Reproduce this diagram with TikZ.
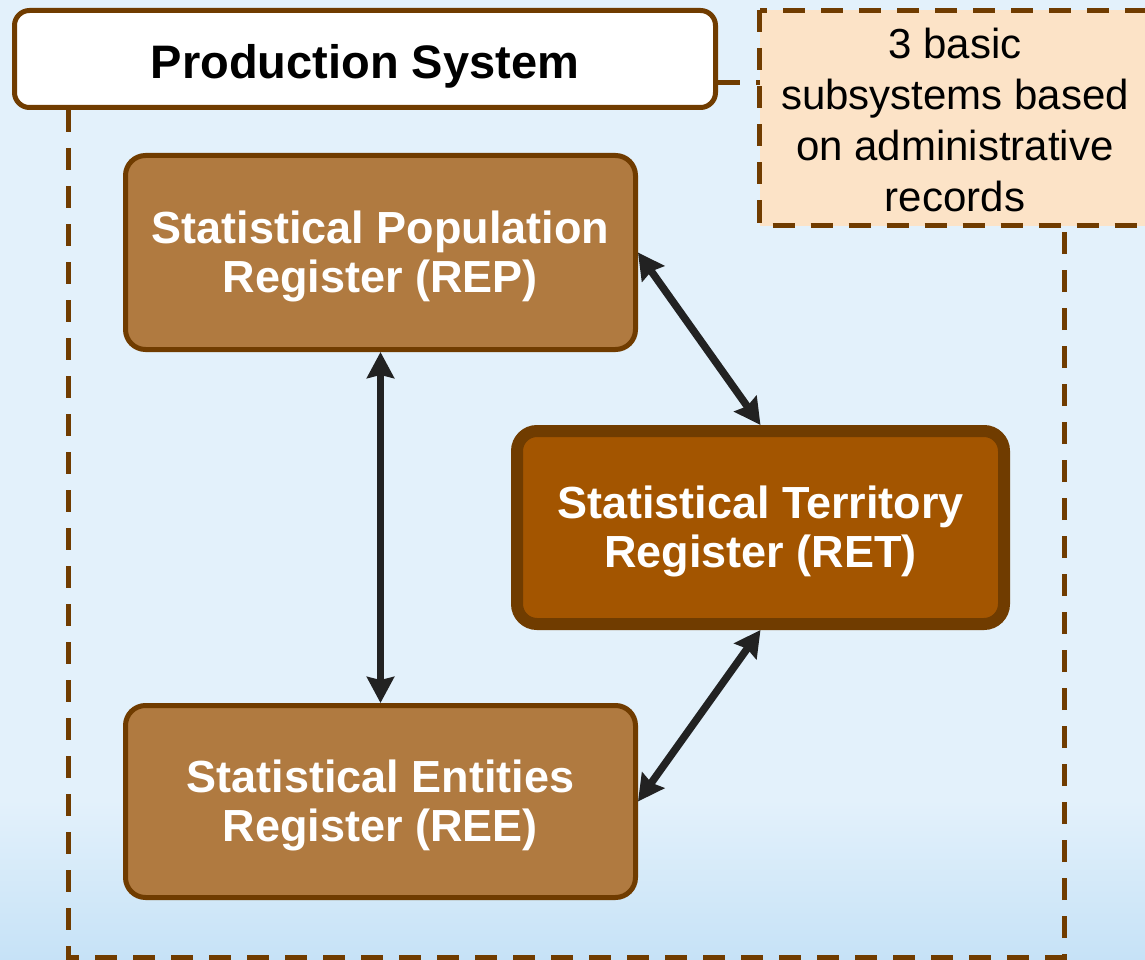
\documentclass[tikz,border=0pt]{standalone}
\usepackage{fontspec}
\setmainfont{Liberation Sans}
\usetikzlibrary{arrows.meta}
\definecolor{bgtop}{HTML}{E3F1FB}
\definecolor{bgbot}{HTML}{C6E2F7}
\definecolor{brd}{HTML}{703C00}
\definecolor{regfill}{HTML}{B07A40}
\definecolor{retfill}{HTML}{A35500}
\definecolor{notefill}{HTML}{FCE3C7}
\definecolor{arr}{HTML}{222222}
\newcommand{\toppad}{\rule{0pt}{41pt}}
\tikzset{
  regbox/.style={draw=brd, line width=5pt, fill=regfill, rounded corners=20pt,
    minimum width=510pt, minimum height=194pt, align=center, text=white,
    font=\bfseries\fontsize{45}{49}\selectfont, inner sep=0pt},
  retbox/.style={regbox, fill=retfill, line width=12pt, minimum width=487pt, minimum height=193pt},
  titlebox/.style={draw=brd, line width=5pt, fill=white, rounded corners=15pt,
    minimum width=701pt, minimum height=97pt, font=\bfseries\fontsize{47}{52}\selectfont,
    inner sep=0pt, text height=52pt, text depth=12pt},
  notetext/.style={align=center, font=\fontsize{42}{51}\selectfont, inner sep=0pt},
  dashline/.style={draw=brd, line width=5pt, dash pattern=on 22pt off 16pt},
  biarrow/.style={draw=arr, line width=7.5pt, {Stealth[length=26pt,width=27pt,inset=3pt]}-{Stealth[length=26pt,width=27pt,inset=3pt]}}
}
\begin{document}
\begin{tikzpicture}[x=1pt,y=-1pt]
\useasboundingbox (0,0) rectangle (1145,960);
\fill[bgtop] (0,0) rectangle (1145,960);
\shade[top color=bgtop, bottom color=bgbot] (0,800) rectangle (1145,960);
% container
\coordinate (cl) at (68,110);
\coordinate (cbl) at (68,957);
\coordinate (cbr) at (1064,957);
\coordinate (cr) at (1064,226);
\draw[dashline] (cl) -- (cbl) -- (cbr) -- (cr);
% note box
\draw[dashline, fill=notefill] (759.5,10.5) rectangle (1175,225.5);
\node[notetext] (note) at (955,120) {3 basic\\subsystems based\\on administrative\\records};
% title
\node[titlebox] (title) at (365,59) {Production System};
\coordinate (nl) at (759.5,83);
\draw[dashline] (title.east |- nl) -- (nl);
% registers
\node[regbox] (rep) at (380.5,252.5) {\toppad Statistical Population\\Register (REP)};
\node[regbox, minimum height=192pt] (ree) at (380.5,801.5) {\toppad Statistical Entities\\Register (REE)};
\node[retbox] (ret) at (760.5,527.5) {\toppad Statistical Territory\\Register (RET)};
% arrows
\draw[biarrow] (rep.south) -- (ree.north);
\draw[biarrow] (rep.east) -- (ret.north);
\draw[biarrow] (ree.east) -- (ret.south);
\end{tikzpicture}
\end{document}
